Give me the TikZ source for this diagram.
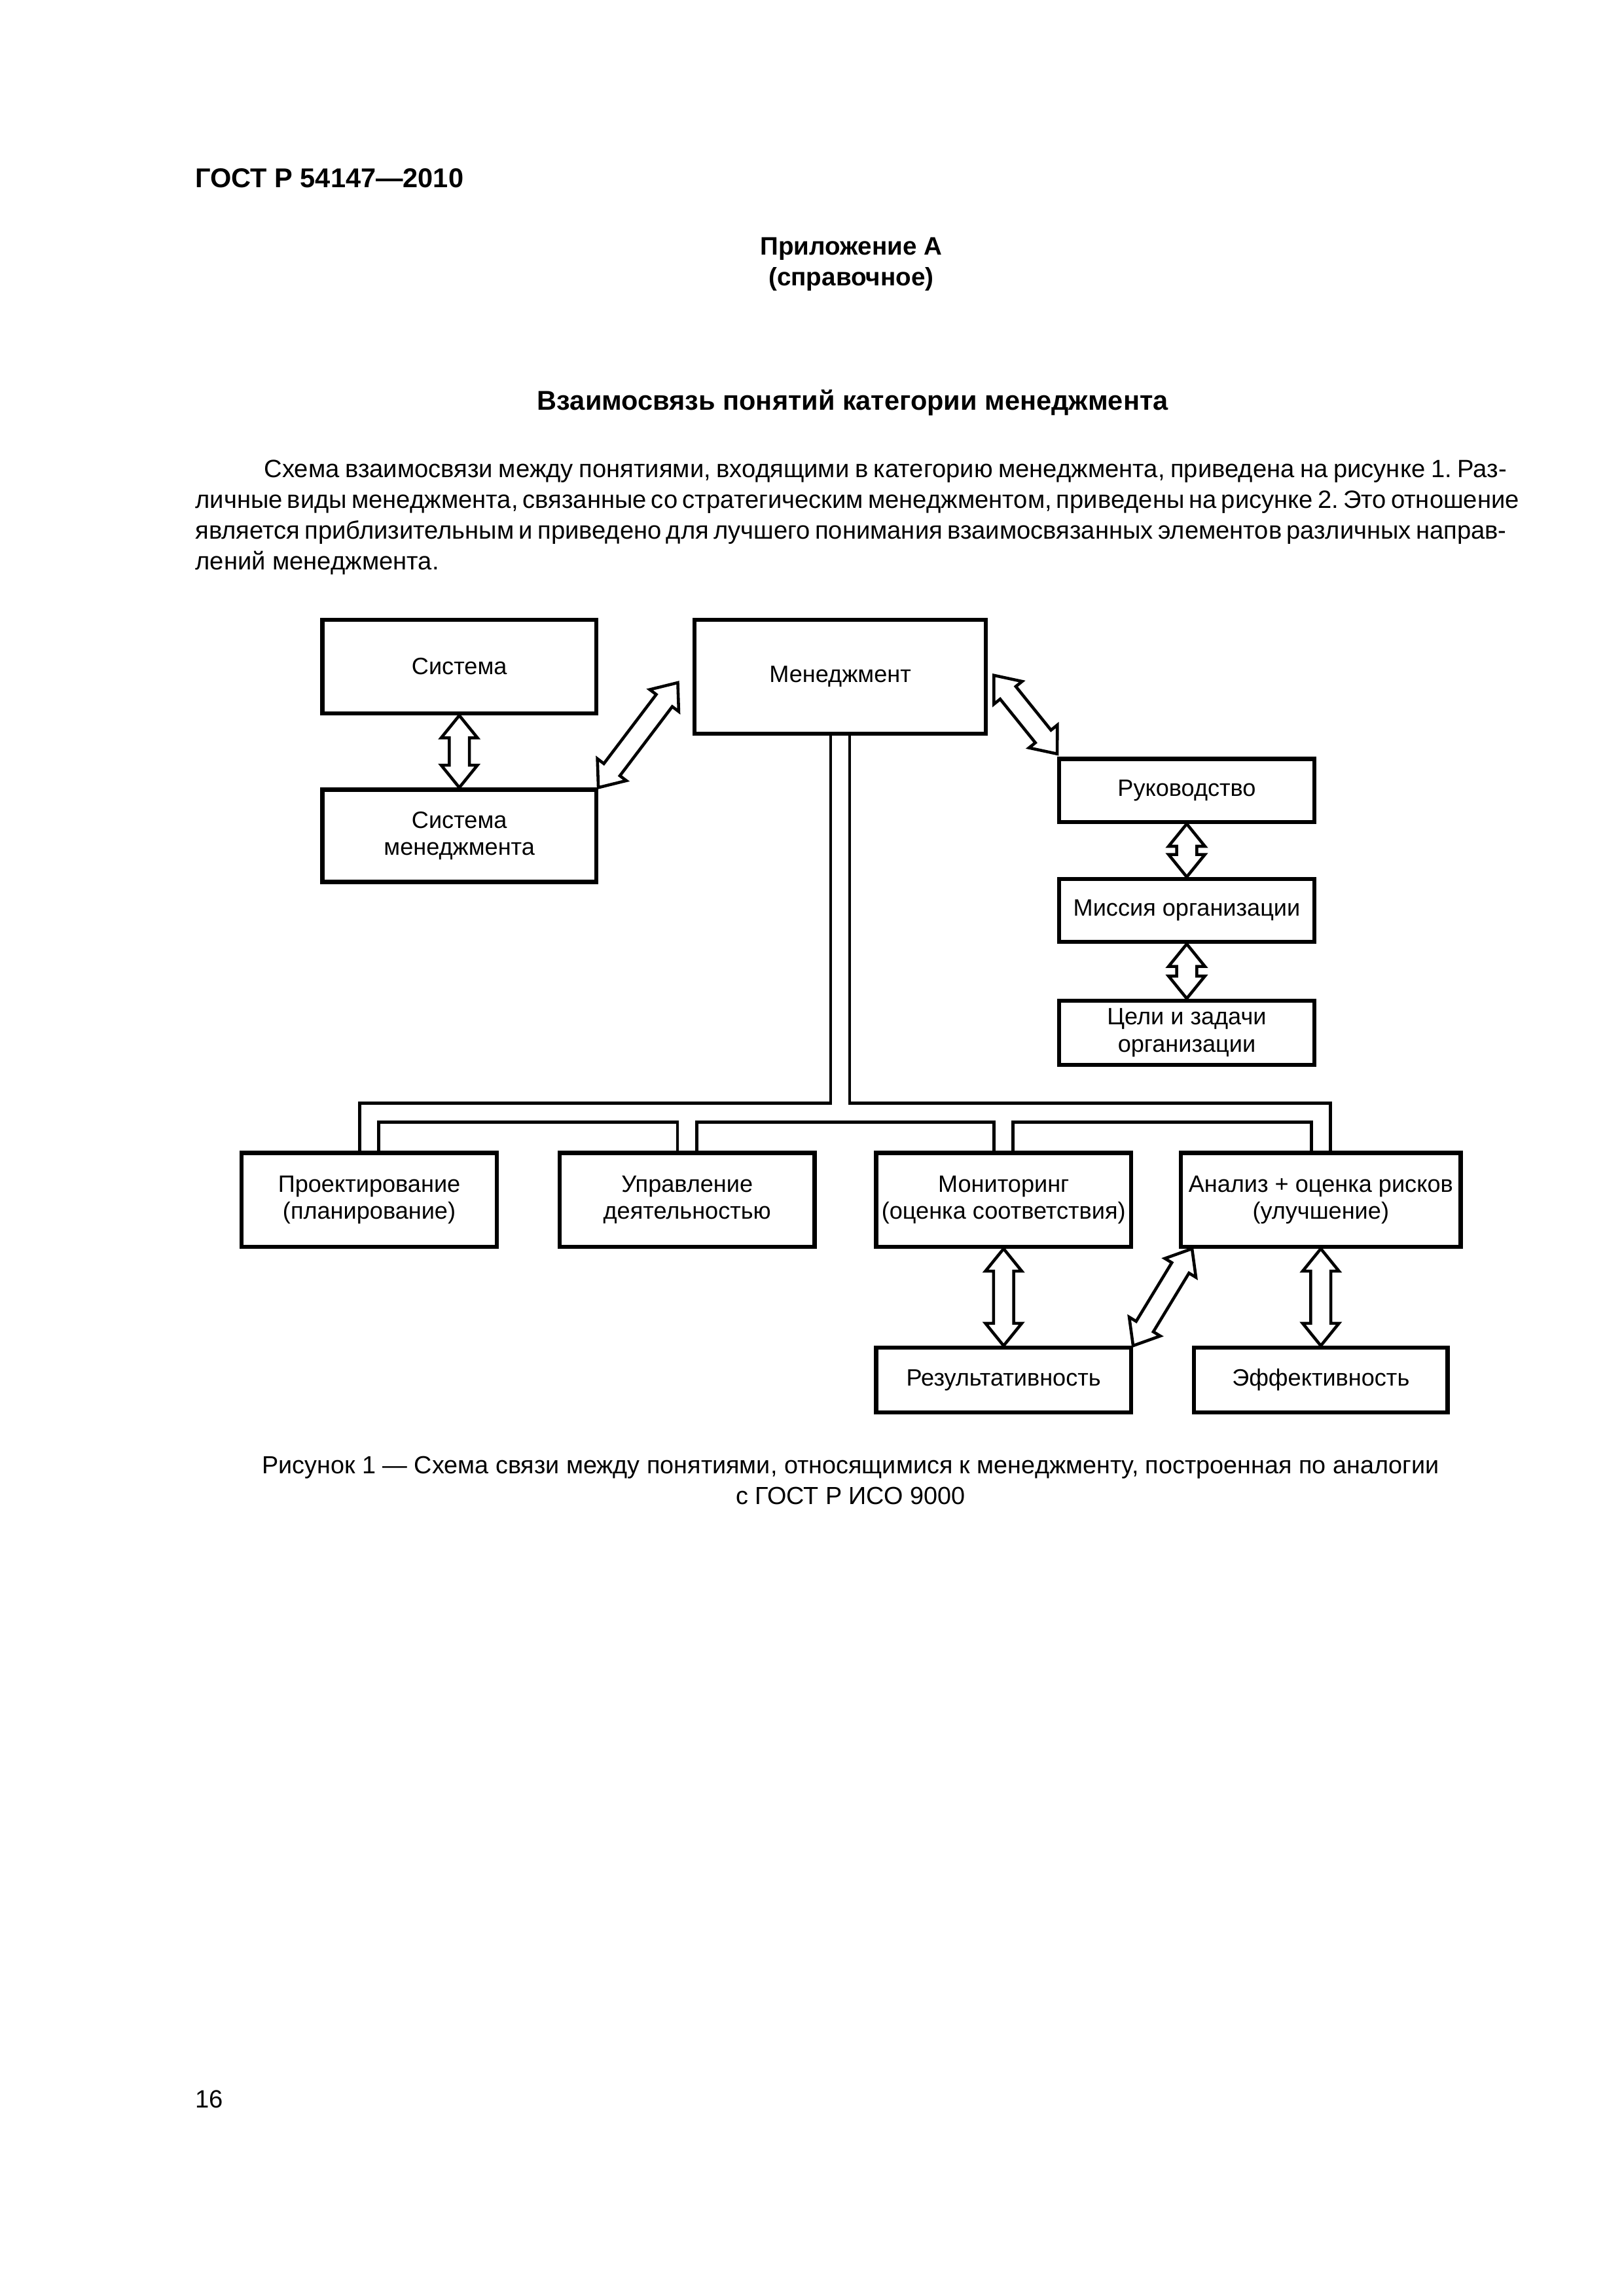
\documentclass[tikz,border=0pt]{standalone}
\usepackage{fontspec}
\setmainfont{Liberation Sans}
\usetikzlibrary{calc}
\frenchspacing

\newlength{\pxl}
\setlength{\pxl}{0.1895mm}
\newcommand{\boxfont}{\fontsize{8.7}{10}\selectfont}
\newcommand{\bodyfont}{\fontsize{9.2}{11.4}\selectfont}
\newcommand{\capfont}{\fontsize{9.1}{11.4}\selectfont}
\newcommand{\headfont}{\fontsize{10}{12}\selectfont\bfseries}
\newcommand{\annexfont}{\fontsize{9.3}{12}\selectfont\bfseries}
% hollow double arrow between two named points
\newcommand{\linkarrow}[2]{%
  \coordinate (ha) at ($(#1)!2.9mm!(#2)$);
  \coordinate (hb) at ($(#2)!2.9mm!(#1)$);
  \draw[biarrow] (#1) -- ($(ha)!2.35mm!90:(#2)$) -- ($(ha)!1.3mm!90:(#2)$)
    -- ($(hb)!1.3mm!-90:(#1)$) -- ($(hb)!2.35mm!-90:(#1)$) -- (#2)
    -- ($(hb)!2.35mm!90:(#1)$) -- ($(hb)!1.3mm!90:(#1)$)
    -- ($(ha)!1.3mm!-90:(#2)$) -- ($(ha)!2.35mm!-90:(#2)$) -- cycle;}

\begin{document}
\begin{tikzpicture}[x=\pxl, y=-\pxl,
    conceptbox/.style={draw, line width=1.5pt, align=center, font=\boxfont, inner sep=0pt},
    pipe/.style={line width=1.1pt},
    biarrow/.style={draw, fill=white, line width=1.1pt},
    bodytext/.style={anchor=base west, inner sep=0pt, font=\bodyfont},
    headtext/.style={anchor=base, inner sep=0pt, font=\headfont}]

    \useasboundingbox[fill=white] (0,0) rectangle (1108.2,1567.3);

    % page text
    \node[headtext, anchor=base west] (gost) at (133,128) {ГОСТ Р 54147—2010};
    \node[headtext, font=\annexfont] (annex) at (581,174) {Приложение А};
    \node[headtext, font=\annexfont] (annexkind) at (581,195) {(справочное)};
    \node[headtext] (title) at (582,280) {Взаимосвязь понятий категории менеджмента};

    \node[bodytext] (par1) at (180,326) {\makebox[848\pxl][s]{Схема взаимосвязи между понятиями, входящими в категорию менеджмента, приведена на рисунке 1. Раз-}};
    \node[bodytext] (par2) at (133,347) {\makebox[895\pxl][s]{личные виды менеджмента, связанные со стратегическим менеджментом, приведены на рисунке 2. Это отношение}};
    \node[bodytext] (par3) at (133,368) {\makebox[895\pxl][s]{является приблизительным и приведено для лучшего понимания взаимосвязанных элементов различных направ-}};
    \node[bodytext] (par4) at (133,389) {лений менеджмента.};

    % boxes
    \node[conceptbox, minimum width=187\pxl, minimum height=64\pxl] (sys) at (313.5,455) {Система};
    \node[conceptbox, minimum width=187\pxl, minimum height=63\pxl] (sysm) at (313.5,570.5) {Система\\менеджмента};
    \node[conceptbox, minimum width=199\pxl, minimum height=78\pxl] (mgmt) at (573.5,462) {Менеджмент};
    \node[conceptbox, minimum width=174\pxl, minimum height=43\pxl] (lead) at (810,539.5) {Руководство};
    \node[conceptbox, minimum width=174\pxl, minimum height=43\pxl] (mission) at (810,621.5) {Миссия организации};
    \node[conceptbox, minimum width=174\pxl, minimum height=44\pxl] (goals) at (810,705) {Цели и задачи\\организации};
    \node[conceptbox, minimum width=174\pxl, minimum height=64\pxl] (design) at (252,819) {Проектирование\\(планирование)};
    \node[conceptbox, minimum width=174\pxl, minimum height=64\pxl] (ops) at (469,819) {Управление\\деятельностью};
    \node[conceptbox, minimum width=174\pxl, minimum height=64\pxl] (monitor) at (685,819) {Мониторинг\\(оценка соответствия)};
    \node[conceptbox, minimum width=191\pxl, minimum height=64\pxl] (analysis) at (901.5,819) {Анализ + оценка рисков\\(улучшение)};
    \node[conceptbox, minimum width=174\pxl, minimum height=44\pxl] (result) at (685,942) {Результативность};
    \node[conceptbox, minimum width=173\pxl, minimum height=44\pxl] (effect) at (901.5,942) {Эффективность};

    % double-line bus from Менеджмент
    \coordinate (outer) at (0,753);
    \coordinate (inner) at (0,766);
    \coordinate (mgL) at ($(mgmt.south)+(-6.5,0)$);
    \coordinate (mgR) at ($(mgmt.south)+(6.5,0)$);
    \coordinate (deL) at ($(design.north)+(-6.5,0)$);
    \coordinate (deR) at ($(design.north)+(6.5,0)$);
    \coordinate (opL) at ($(ops.north)+(-6.5,0)$);
    \coordinate (opR) at ($(ops.north)+(6.5,0)$);
    \coordinate (moL) at ($(monitor.north)+(-6.5,0)$);
    \coordinate (moR) at ($(monitor.north)+(6.5,0)$);
    \coordinate (anL) at ($(analysis.north)+(-6.5,0)$);
    \coordinate (anR) at ($(analysis.north)+(6.5,0)$);
    \draw[pipe] (mgL) -- (mgL |- outer) -| (deL);
    \draw[pipe] (mgR) -- (mgR |- outer) -| (anR);
    \foreach \a/\b in {deR/opL, opR/moL, moR/anL}
        \draw[pipe] (\a) |- (\b |- inner) -- (\b);

    % arrows
    \coordinate (smTip) at (sysm.north east);
    \coordinate (mgTipL) at ($(mgmt.west)+(-10,4)$);
    \coordinate (mgTipR) at ($(mgmt.east)+(4,-1)$);
    \coordinate (ldTip) at ($(lead.north west)+(0,-2)$);
    \coordinate (rsTip) at (result.north east);
    \coordinate (anTip) at ($(analysis.south west)+(9,0)$);
    \linkarrow{sys.south}{sysm.north}
    \linkarrow{smTip}{mgTipL}
    \linkarrow{mgTipR}{ldTip}
    \linkarrow{lead.south}{mission.north}
    \linkarrow{mission.south}{goals.north}
    \linkarrow{monitor.south}{result.north}
    \linkarrow{analysis.south}{effect.north}
    \linkarrow{rsTip}{anTip}

    % caption and page number
    \node[font=\capfont, anchor=base, inner sep=0pt] (cap1) at (580.5,1006) {Рисунок 1 — Схема связи между понятиями, относящимися к менеджменту, построенная по аналогии};
    \node[font=\capfont, anchor=base, inner sep=0pt] (cap2) at (580.5,1027) {с ГОСТ Р ИСО 9000};
    \node[bodytext] (page) at (133,1439) {16};

\end{tikzpicture}
\end{document}
